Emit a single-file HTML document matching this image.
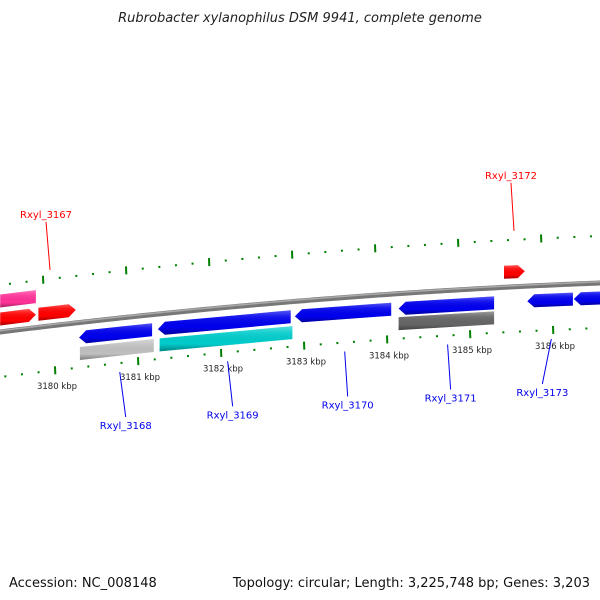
<!DOCTYPE html>
<html><head><meta charset="utf-8"><style>
body{margin:0;background:#fff}
svg{display:block;font-family:"DejaVu Sans","Liberation Sans",sans-serif}
</style></head><body>
<svg id="c" width="600" height="600" viewBox="0 0 600 600">
<defs>
<linearGradient id="sh" x1="0" y1="0" x2="0" y2="1">
<stop offset="0" stop-color="#fff" stop-opacity="0.35"/><stop offset="0.25" stop-color="#fff" stop-opacity="0.1"/>
<stop offset="0.7" stop-color="#000" stop-opacity="0"/><stop offset="1" stop-color="#000" stop-opacity="0.35"/>
</linearGradient>
</defs>
<text x="300" y="22" text-anchor="middle" font-size="13" font-style="italic" fill="#222">Rubrobacter xylanophilus DSM 9941, complete genome</text>
<text x="9" y="587" font-size="13" fill="#111">Accession: NC_008148</text>
<text x="590" y="587" text-anchor="end" font-size="13" fill="#111">Topology: circular; Length: 3,225,748 bp; Genes: 3,203</text>
<g id="g"></g>
</svg>
<script>
// data
const tickKbp=[3180,3181,3182,3183,3184,3185,3186];
const geneStart=[3179.34,3179.80,3180.29,3180.30,3181.24,3181.26,3182.89,3184.14,3184.14,3185.41,3185.69,3186.25,3179.34];
const geneEnd=[3179.77,3180.25,3181.17,3181.19,3182.84,3182.86,3184.05,3185.29,3185.29,3185.66,3186.24,3186.8,3179.77];
const geneStrand=[1,1,-1,0,-1,0,-1,-1,0,1,-1,-1,0];
const geneRow=[-13,-13,15,31,15,31,15,15,30,-15,15,15,-31];
const geneColor=['#ff0000','#ff0000','#0000ee','#c0c0c0','#0000ee','#00cccc','#0000ee','#0000ee','#666666','#ff0000','#0000ee','#0000ee','#ff3399'];
const labelNames=['Rxyl_3167','Rxyl_3168','Rxyl_3169','Rxyl_3170','Rxyl_3171','Rxyl_3172','Rxyl_3173'];
const labelKbp=[3179.94,3180.78,3182.08,3183.49,3184.73,3185.53,3185.98];
const labelSide=[-1,1,1,1,1,-1,1];
const labelSlant=[-4,6,5,3,3,-3,-9];
const labelColor=['#ff0000','#0000ee','#0000ee','#0000ee','#0000ee','#ff0000','#0000ee'];

const X=k=>55+(k-3180)*83;
const B=x=>332-0.125*x+7.22e-5*x*x;
const NS='http://www.w3.org/2000/svg';
const g=document.getElementById('g');
function mk(t,a){const e=document.createElementNS(NS,t);for(const k in a)e.setAttribute(k,a[k]);g.appendChild(e);return e;}

// backbone
let d='';for(let x=-5;x<=605;x+=5){d+=(x==-5?'M':'L')+x+','+B(x).toFixed(2);}
let bb=mk('path',{d:d,fill:'none',stroke:'#777',"stroke-width":5});


let bh=mk('path',{d:d,fill:'none',stroke:'#aaa',"stroke-width":1.5,transform:'translate(0,-1.2)'});



// ticks
for(let k=3179;k<=3187;k+=0.2){
  const kk=Math.round(k*10)/10;const major=Math.abs(kk-Math.round(kk))<0.01;
  [[-47,-12],[45,0]].forEach(([off,dx])=>{
    const x=X(kk)+dx;if(x<-2||x>602)return;const y=B(x)+off;
    const t=mk('line',{x1:x,y1:y-(major?4:1),x2:x+0.3,y2:y+(major?4:1),stroke:'#008000',"stroke-width":2});
    
    
  });
}
tickKbp.forEach(k=>{const x=X(k)+2;const t=mk('text',{x:x,y:B(x)+64,"font-size":8.5,"text-anchor":"middle",fill:'#222'});t.textContent=k+' kbp';

});

// genes
geneStart.forEach((s,i)=>{
  const x1=X(s),x2=X(geneEnd[i]),o=geneRow[i],h=6.5,tip=7,st=geneStrand[i];
  const P=(x,dy)=>x.toFixed(1)+','+(B(x)+o+dy).toFixed(1);
  let pts;
  if(st==1)pts=[P(x1,-h),P(x2-tip,-h),P(x2,0),P(x2-tip,h),P(x1,h)];
  else if(st==-1)pts=[P(x1+tip,-h),P(x2,-h),P(x2,h),P(x1+tip,h),P(x1,0)];
  else pts=[P(x1,-h),P(x2,-h),P(x2,h),P(x1,h)];
  const p=mk('polygon',{points:pts.join(' '),fill:geneColor[i]});
  
  
  const q=mk('polygon',{points:pts.join(' '),fill:'url(#sh)'});
  
  
});

// labels
labelNames.forEach((n,i)=>{
  const x=X(labelKbp[i]);const side=labelSide[i];const tx=x+labelSlant[i];
  let ya,yb,ty;
  if(side<0){ya=B(x)-56;yb=ya-48;ty=yb-4;}
  else{ya=B(x)+54;yb=ya+45;ty=yb+12;}
  const l=mk('line',{x1:x,y1:ya,x2:tx,y2:yb,stroke:labelColor[i],"stroke-width":1});
  
  
  const t=mk('text',{x:tx,y:ty,"font-size":10,"text-anchor":"middle",fill:labelColor[i]});t.textContent=n;
  
  
});
</script>
</body></html>
